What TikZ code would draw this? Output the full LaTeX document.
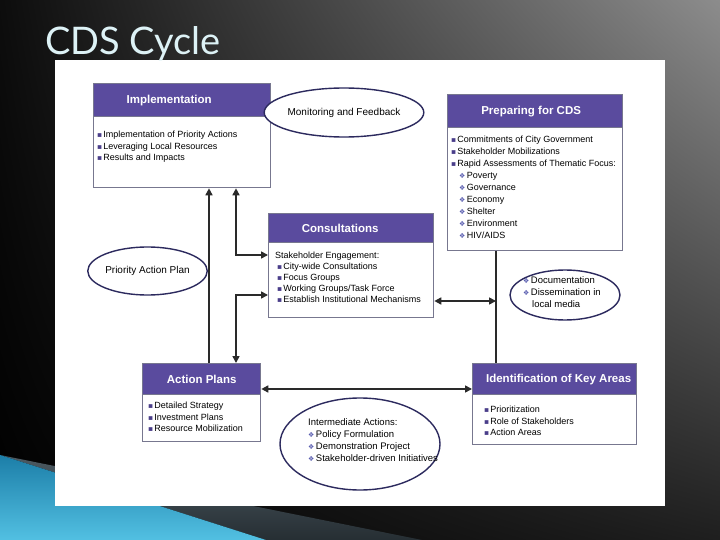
\documentclass[tikz,border=0pt]{standalone}
\usepackage{fontspec}
\setmainfont{Liberation Sans}
\newfontfamily\dv{DejaVu Sans}
\newfontfamily\titlefont{Lato}
\usetikzlibrary{arrows.meta,shapes.geometric,calc,shadings}
\definecolor{hdr}{HTML}{5A4B9E}
\definecolor{bord}{HTML}{77778F}
\definecolor{ell}{HTML}{2C2A5E}
\definecolor{bulc}{HTML}{4A3E8A}
\definecolor{dia}{HTML}{5A5EB0}
\definecolor{connc}{HTML}{2A2A2A}
\definecolor{titlec}{HTML}{DDF2F6}
\definecolor{blueA}{HTML}{1C7EA8}
\definecolor{blueB}{HTML}{52C0E2}
\definecolor{greyA}{HTML}{4C5A62}
\definecolor{greyB}{HTML}{262E33}
\newcommand\sqb{{\color{bulc}\dv\fontsize{7.5}{7.5}\selectfont ▪}\hspace{1pt}}
\newcommand\dmb{{\color{dia}\dv\fontsize{7}{7}\selectfont ❖}\hspace{1.5pt}}
\tikzset{
  boxbody/.style={draw=bord, line width=1.3pt, fill=white, inner sep=0pt, anchor=north west},
  boxhead/.style={fill=hdr, draw=bord, line width=1.3pt, text=white,
    font=\fontsize{11.5}{12}\selectfont\bfseries, inner sep=0pt, anchor=north west},
  items/.style={align=left, anchor=north west, inner sep=0pt, font=\fontsize{9}{11.5}\selectfont},
  oval/.style={ellipse, draw=ell, line width=1.4pt, fill=white, inner sep=0pt},
  ovaltext/.style={align=left, inner sep=0pt, font=\fontsize{9.5}{12}\selectfont},
  conn/.style={draw=connc, line width=1.6pt},
  >={Triangle[length=7pt,width=7pt]}
}
% name, x, y, w, h, header height, title, item options, items
\newcommand\cdsbox[9]{%
  \node[boxbody, minimum width=#4pt, minimum height=#5pt] (#1) at (#2,#3) {};
  \node[boxhead, minimum width=#4pt, minimum height=#6pt] (#1h) at (#1.north west) {#7};
  \node[items, #8] (#1i) at (#1h.south west) {#9};
}
\begin{document}
\begin{tikzpicture}[x=1pt,y=-1pt]
\useasboundingbox (0,0) rectangle (720,540);
% slide background
\shade[upper left=black!95, upper right=black!45, lower left=black, lower right=black!88]
  (0,0) rectangle (720,540);
\shade[top color=greyA, bottom color=greyB] (0,455) -- (422,540) -- (266,540) -- cycle;
\shade[top color=blueA, bottom color=blueB] (0,455) -- (266,540) -- (0,540) -- cycle;
% white panel
\fill[white] (55,60) rectangle (665,506);
% title
\node[anchor=base west, inner sep=0pt, text=titlec,
  font=\titlefont\fontsize{38}{38}\selectfont] (title) at (45,55) {CDS Cycle};

% boxes
\cdsbox{impl}{93}{83}{177}{104}{33}{Implementation\hspace*{26pt}}{xshift=4pt,yshift=-13.6pt}%
  {\sqb Implementation of Priority Actions\\ \sqb Leveraging Local Resources\\ \sqb Results and Impacts}
\cdsbox{prep}{447}{94}{175}{156}{33}{Preparing for CDS\hspace*{8pt}}{xshift=4pt,yshift=-7.6pt,font=\fontsize{9}{12}\selectfont}%
  {\sqb Commitments of City Government\\ \sqb Stakeholder Mobilizations\\ \sqb Rapid Assessments of Thematic Focus:\\
   \hspace*{8pt}\dmb Poverty\\ \hspace*{8pt}\dmb Governance\\ \hspace*{8pt}\dmb Economy\\
   \hspace*{8pt}\dmb Shelter\\ \hspace*{8pt}\dmb Environment\\ \hspace*{8pt}\dmb HIV/AIDS}
\cdsbox{cons}{268}{213}{165}{104}{29}{Consultations\hspace*{22pt}}{xshift=7pt,yshift=-8.6pt,font=\fontsize{9}{11}\selectfont}%
  {Stakeholder Engagement:\\ \hspace*{2pt}\sqb City-wide Consultations\\ \hspace*{2pt}\sqb Focus Groups\\
   \hspace*{2pt}\sqb Working Groups/Task Force\\ \hspace*{2pt}\sqb Establish Institutional Mechanisms}
\cdsbox{ap}{142}{363}{118}{78}{31}{Action Plans}{xshift=6pt,yshift=-6.6pt}%
  {\sqb Detailed Strategy\\ \sqb Investment Plans\\ \sqb Resource Mobilization}
\cdsbox{ident}{472}{363}{164}{81}{31}{\hspace*{8pt}Identification of Key Areas}{xshift=12pt,yshift=-10.6pt}%
  {\sqb Prioritization\\ \sqb Role of Stakeholders\\ \sqb Action Areas}

% ellipses
\node[oval, minimum width=142pt, minimum height=49pt, font=\fontsize{10}{12}\selectfont]
  (mon) at (344,112.5) {Monitoring and Feedback};
\node[oval, minimum width=118pt, minimum height=48pt, font=\fontsize{10}{12}\selectfont]
  (pap) at (147.5,271) {Priority Action Plan};
\node[oval, minimum width=110pt, minimum height=50pt] (doc) at (565,295) {};
\node[ovaltext, anchor=north west] (doct) at (523,276.5) {\dmb Documentation\\ \dmb Dissemination in\\ \hspace*{9pt}local media};
\node[oval, minimum width=160pt, minimum height=92pt] (inter) at (360,444) {};
\node[ovaltext, anchor=north west] (intert) at (308,418) {Intermediate Actions:\\ \dmb Policy Formulation\\ \dmb Demonstration Project\\ \dmb Stakeholder-driven Initiatives};

% connector guide coordinates
\coordinate (xa) at (209,0);
\coordinate (xb) at (236,0);
\coordinate (xd) at (496,0);
\coordinate (yb) at (0,255);
\coordinate (yc) at (0,295);
\coordinate (ye) at (0,301);
\coordinate (yf) at (0,389);
\coordinate (dj) at (xd |- ye);

% connectors
\draw[conn,->] (ap.north -| xa) -- (impl.south -| xa);
\draw[conn,<->] (impl.south -| xb) |- (cons.west |- yb);
\draw[conn,<->] (cons.west |- yc) -| (ap.north -| xb);
\draw[conn] (prep.south -| xd) -- (ident.north -| xd);
\draw[conn,<->] (cons.east |- ye) -- (dj);
\draw[conn,<->] (ap.east |- yf) -- (ident.west |- yf);
\end{tikzpicture}
\end{document}
